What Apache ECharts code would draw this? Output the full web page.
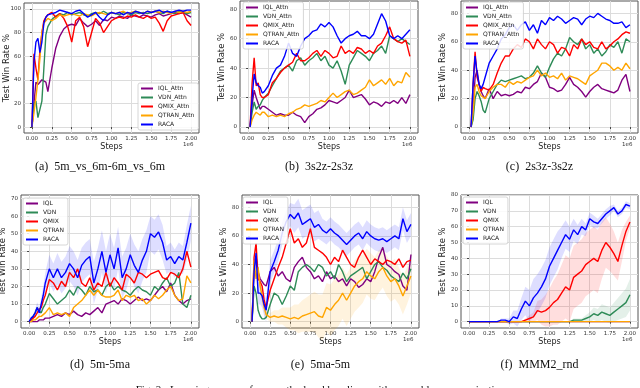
<!DOCTYPE html>
<html>
<head>
<meta charset="utf-8">
<script src="https://cdn.jsdelivr.net/npm/echarts@6/dist/echarts.min.js"></script>
<style>
  html, body { margin: 0; padding: 0; background: #fff; }
  #chart { width: 640px; height: 388px; }
</style>
</head>
<body>
<div id="chart"></div>
<script>
// steps (x 1e6)
const STEPS = [0, 0.025, 0.05, 0.075, 0.1, 0.125, 0.15, 0.175, 0.2, 0.25, 0.3, 0.35, 0.4, 0.45, 0.5, 0.55, 0.6, 0.65, 0.7, 0.75, 0.8, 0.85, 0.9, 0.95, 1.0, 1.05, 1.1, 1.15, 1.2, 1.25, 1.3, 1.35, 1.4, 1.45, 1.5, 1.55, 1.6, 1.65, 1.7, 1.75, 1.8, 1.85, 1.9, 1.95, 2.0];
const X_TICKS = [0, 0.25, 0.5, 0.75, 1.0, 1.25, 1.5, 1.75, 2.0];
const Y_TICKS_20_100 = [0, 20, 40, 60, 80, 100];
const Y_TICKS_20_80 = [0, 20, 40, 60, 80];
const Y_TICKS_10_70 = [0, 10, 20, 30, 40, 50, 60, 70];
const Y_TICKS_10_80 = [0, 10, 20, 30, 40, 50, 60, 70, 80];

const ATTN_NAMES = ['IQL_Attn', 'VDN_Attn', 'QMIX_Attn', 'QTRAN_Attn', 'RACA'];
const BASE_NAMES = ['IQL', 'VDN', 'QMIX', 'QTRAN', 'RACA'];
const CAPTIONS = ['(a)  5m_vs_6m-6m_vs_6m', '(b)  3s2z-2s3z', '(c)  2s3z-3s2z', '(d)  5m-5ma', '(e)  5ma-5m', '(f)  MMM2_rnd'];

// (a) 5m_vs_6m-6m_vs_6m
const A_IQL = [0, 20, 38, 36, 38, 40, 40, 38, 30, 50, 67, 77, 83, 86, 87, 86, 92, 88, 85, 87, 90, 86, 91, 90, 93, 92, 94, 93, 92, 95, 94, 93, 95, 94, 93, 95, 96, 94, 95, 96, 97, 96, 97, 95, 93];
const A_VDN = [0, 20, 22, 8, 15, 22, 50, 78, 85, 91, 94, 96, 95, 97, 95, 96, 97, 95, 94, 96, 97, 96, 98, 96, 97, 96, 95, 97, 96, 95, 97, 96, 97, 96, 97, 98, 97, 96, 98, 97, 96, 98, 97, 96, 97];
const A_QMIX = [0, 62, 50, 40, 65, 80, 90, 93, 95, 97, 93, 96, 92, 85, 72, 90, 93, 85, 68, 80, 92, 88, 80, 85, 90, 92, 93, 92, 94, 93, 95, 93, 92, 94, 92, 93, 88, 81, 90, 94, 95, 96, 97, 90, 86];
const A_QTRAN = [0, 12, 25, 40, 58, 80, 88, 90, 92, 90, 92, 95, 94, 95, 96, 95, 94, 96, 95, 94, 96, 97, 96, 95, 97, 96, 97, 98, 96, 97, 98, 97, 96, 98, 97, 98, 97, 98, 97, 96, 98, 97, 98, 97, 98];
const A_RACA = [0, 55, 72, 75, 63, 72, 88, 93, 95, 96, 97, 99, 98, 97, 96, 98, 99, 96, 93, 95, 97, 93, 90, 95, 97, 96, 97, 95, 97, 96, 98, 97, 96, 98, 97, 98, 99, 97, 98, 97, 98, 99, 98, 99, 99];

// (b) 3s2z-2s3z
const B_IQL = [null, 0, 15, 25, 20, 16, 12, 14, 14, 12, 10, 8, 9, 8, 8, 10, 8, 7, 3, 7, 9, 12, 13, 15, 18, 17, 16, 18, 20, 25, 20, 21, 22, 19, 15, 17, 16, 14, 17, 16, 18, 16, 20, 16, 22];
const B_VDN = [null, 0, 10, 17, 12, 14, 15, 18, 20, 23, 28, 33, 38, 40, 42, 38, 45, 47, 42, 45, 47, 50, 45, 48, 42, 40, 45, 38, 29, 42, 47, 52, 50, 48, 45, 50, 52, 55, 50, 62, 60, 58, 60, 58, 56];
const B_QMIX = [null, 0, 30, 47, 28, 30, 22, 20, 20, 22, 30, 33, 37, 40, 42, 44, 50, 45, 45, 47, 50, 52, 48, 52, 50, 47, 48, 55, 50, 52, 50, 54, 53, 50, 52, 50, 55, 57, 62, 68, 60, 58, 57, 59, 48];
const B_QTRAN = [null, 0, 5, 8, 10, 9, 8, 10, 10, 7, 8, 7, 8, 7, 9, 10, 12, 13, 15, 14, 15, 16, 18, 17, 20, 23, 20, 22, 24, 25, 22, 23, 25, 27, 32, 28, 30, 32, 29, 33, 28, 31, 30, 37, 34];
const B_RACA = [null, 0, 20, 36, 30, 28, 27, 23, 24, 28, 35, 40, 42, 48, 57, 50, 48, 55, 60, 62, 65, 66, 70, 68, 71, 68, 62, 57, 60, 62, 63, 65, 62, 62, 60, 63, 70, 77, 72, 62, 60, 62, 60, 63, 66];

// (c) 2s3z-3s2z
const C_IQL = [null, 0, 10, 35, 40, 30, 25, 22, 20, 27, 20, 25, 22, 23, 22, 23, 25, 24, 28, 27, 30, 32, 38, 35, 28, 27, 25, 26, 30, 35, 30, 28, 25, 21, 25, 28, 30, 27, 26, 25, 24, 26, 33, 37, 25];
const C_VDN = [null, 0, 5, 20, 25, 22, 18, 12, 10, 20, 25, 30, 33, 32, 33, 34, 35, 36, 34, 35, 38, 43, 38, 35, 42, 48, 52, 50, 55, 63, 60, 58, 62, 55, 58, 52, 55, 50, 53, 58, 56, 60, 52, 62, 60];
const C_QMIX = [null, 0, 30, 53, 35, 30, 25, 28, 27, 26, 30, 38, 45, 50, 50, 55, 58, 56, 62, 60, 55, 62, 58, 55, 60, 58, 52, 56, 55, 50, 58, 55, 62, 58, 60, 56, 55, 60, 55, 57, 60, 62, 65, 67, 66];
const C_QTRAN = [null, 0, 10, 28, 30, 25, 22, 21, 20, 25, 28, 30, 30, 28, 32, 30, 32, 31, 33, 35, 36, 40, 36, 38, 35, 36, 34, 38, 33, 36, 35, 34, 32, 30, 36, 38, 40, 45, 45, 43, 40, 42, 40, 45, 41];
const C_RACA = [null, 0, 30, 50, 38, 30, 27, 30, 35, 45, 50, 55, 62, 65, 70, 72, 68, 72, 74, 68, 72, 66, 75, 72, 77, 75, 78, 76, 73, 75, 77, 76, 72, 76, 78, 77, 80, 78, 76, 75, 73, 73, 74, 70, 72];

// (d) 5m-5ma
const D_IQL = [0, 0, 0, 0, 0, 1, 1, 1, 2, 2, 3, 4, 3, 5, 4, 6, 4, 3, 5, 4, 6, 8, 5, 10, 11, 12, 10, 13, 12, 10, 12, 14, 12, 13, 12, 15, 18, 20, 17, 22, 15, 12, 10, 12, 13];
const D_VDN = [0, 1, 3, 5, 8, 6, 5, 8, 10, 16, 13, 10, 12, 14, 18, 15, 20, 18, 15, 20, 17, 18, 15, 20, 22, 18, 20, 18, 17, 15, 18, 20, 18, 17, 15, 20, 18, 22, 25, 20, 22, 28, 10, 8, 15];
const D_QMIX = [0, 1, 2, 3, 5, 7, 8, 12, 15, 24, 22, 18, 23, 20, 28, 25, 30, 22, 20, 25, 18, 22, 20, 28, 20, 25, 22, 18, 27, 25, 22, 28, 27, 25, 27, 28, 29, 25, 24, 28, 27, 25, 30, 40, 31];
const D_QTRAN = [0, 0, 1, 1, 2, 3, 3, 4, 5, 8, 4, 5, 4, 5, 3, 8, 10, 12, 15, 18, 15, 18, 15, 14, 14, 15, 18, 12, 15, 14, 15, 12, 13, 10, 12, 15, 13, 15, 18, 20, 15, 12, 13, 26, 22];
const D_RACA = [0, 2, 3, 5, 8, 5, 10, 15, 22, 30, 25, 30, 25, 28, 33, 30, 25, 32, 35, 37, 22, 30, 40, 28, 38, 30, 42, 25, 30, 38, 32, 28, 35, 40, 50, 48, 51, 45, 35, 37, 33, 37, 35, 45, 56];
const D_RACA_SD = [0, 1, 1, 2, 3, 3, 4, 5, 6, 8, 8, 9, 9, 9, 10, 10, 10, 10, 10, 10, 12, 12, 12, 12, 12, 12, 12, 12, 12, 12, 12, 12, 12, 12, 10, 10, 10, 10, 8, 8, 8, 8, 8, 10, 10];

// (e) 5ma-5m
const E_IQL = [null, 0, 38, 45, 35, 30, 28, 26, 25, 35, 38, 32, 35, 30, 28, 38, 42, 45, 38, 35, 30, 32, 28, 35, 30, 32, 28, 30, 25, 30, 28, 24, 26, 30, 28, 35, 45, 52, 40, 38, 35, 33, 25, 22, 47];
const E_VDN = [null, 0, 25, 20, 8, 4, 2, 2, 3, 12, 20, 18, 12, 18, 25, 22, 35, 38, 40, 38, 35, 40, 38, 32, 35, 30, 40, 35, 28, 32, 34, 36, 38, 30, 35, 40, 42, 38, 36, 32, 30, 28, 34, 30, 37];
const E_QMIX = [null, 0, 45, 55, 30, 28, 25, 15, 10, 22, 30, 38, 45, 55, 65, 55, 58, 52, 55, 65, 52, 50, 48, 45, 40, 45, 42, 50, 45, 40, 38, 45, 50, 45, 40, 44, 42, 40, 43, 42, 40, 44, 38, 42, 43];
const E_QTRAN = [null, 0, 43, 30, 38, 25, 18, 10, 5, 3, 4, 3, 4, 3, 2, 3, 2, 4, 5, 6, 7, 4, 3, 10, 8, 12, 15, 20, 15, 20, 25, 28, 30, 35, 32, 30, 35, 38, 32, 28, 30, 25, 18, 25, 32];
const E_RACA = [null, 0, 35, 48, 20, 20, 18, 12, 8, 35, 42, 50, 62, 70, 75, 72, 76, 68, 70, 72, 66, 68, 64, 62, 65, 62, 60, 57, 54, 57, 60, 62, 58, 63, 60, 58, 57, 58, 56, 58, 60, 58, 72, 63, 68];
const E_QTRAN_SD = [0, 0, 5, 5, 5, 5, 5, 5, 3, 3, 4, 5, 6, 7, 8, 9, 10, 11, 12, 13, 14, 15, 16, 17, 18, 18, 18, 18, 18, 18, 18, 18, 17, 16, 16, 15, 15, 14, 14, 14, 14, 13, 13, 13, 12];
const E_RACA_SD = [0, 0, 8, 8, 8, 8, 8, 8, 8, 8, 8, 8, 8, 8, 8, 10, 10, 10, 10, 10, 10, 10, 8, 8, 8, 8, 8, 8, 8, 8, 8, 8, 8, 8, 8, 8, 8, 8, 8, 8, 8, 8, 8, 8, 8];

// (f) MMM2_rnd
const F_IQL = [0, 0, 0, 0, 0, 0, 0, 0, 0, 0, 0, 0, 0, 0, 0, 0, 0, 0, 0, 0, 0, 0, 0, 0, 0, 0, 0, 0, 0, 0, 0, 0, 0, 0, 0, 0, 0, 0, 0, 0, 0, 0, 0, 0, 0];
const F_VDN = [0, 0, 0, 0, 0, 0, 0, 0, 0, 0, 0, 0, 0, 0, 0, 0, 0, 0, 0, 0, 0, 0, 0, 0, 0, 0, 0, 0, 0, 0, 1, 1, 1, 2, 3, 5, 4, 6, 5, 4, 6, 8, 10, 12, 17];
const F_QMIX = [0, 0, 0, 0, 0, 0, 0, 0, 0, 0, 0, 0, 0, 0, 0, 0, 0, 0, 1, 2, 3, 7, 6, 7, 9, 12, 14, 18, 22, 20, 28, 30, 32, 36, 38, 40, 38, 45, 50, 47, 43, 38, 48, 57, 63];
const F_QTRAN = [0, 0, 0, 0, 0, 0, 0, 0, 0, 0, 0, 0, 0, 0, 0, 0, 0, 0, 0, 0, 0, 0, 0, 0, 0, 0, 0, 0, 0, 0, 0, 0, 0, 0, 0, 0, 0, 0, 0, 0, 0, 0, 0, 0, 0];
const F_RACA = [0, 0, 0, 0, 0, 0, 0, 0, 0, 0, 0, 0, 1, 1, 0, 3, 2, 8, 13, 10, 15, 18, 22, 27, 35, 40, 45, 50, 55, 52, 58, 55, 60, 58, 65, 63, 62, 65, 68, 70, 72, 68, 70, 74, 73];
const F_VDN_SD = [0, 0, 0, 0, 0, 0, 0, 0, 0, 0, 0, 0, 0, 0, 0, 0, 0, 0, 0, 0, 0, 0, 0, 0, 0, 0, 0, 0, 0, 0, 1, 1, 1, 2, 3, 4, 4, 5, 5, 5, 6, 7, 8, 9, 10];
const F_QMIX_SD = [0, 0, 0, 0, 0, 0, 0, 0, 0, 0, 0, 0, 0, 0, 0, 0, 0, 0, 1, 2, 3, 6, 8, 10, 12, 14, 16, 18, 20, 20, 20, 20, 20, 20, 20, 20, 20, 18, 16, 15, 14, 12, 10, 6, 4];
const F_RACA_SD = [0, 0, 0, 0, 0, 0, 0, 0, 0, 0, 0, 0, 1, 1, 2, 4, 5, 7, 9, 10, 12, 12, 12, 12, 12, 12, 12, 10, 9, 8, 7, 6, 5, 4, 4, 4, 3, 3, 3, 3, 2, 2, 2, 2, 2];

const COLORS = ['#800080', '#2e8b57', '#ff0000', '#ffa500', '#0000ff'];
const TICK_FONT = 'DejaVu Sans';

const panels = [
  { lines: [A_IQL, A_VDN, A_QMIX, A_QTRAN, A_RACA], names: ATTN_NAMES, yTicks: Y_TICKS_20_100, bands: [],
    box: { left: 24, top: 3, width: 175, height: 130 }, ymin: -5, ymax: 105, legend: [138, 83], yGap: 13, yMove: false },
  { lines: [B_IQL, B_VDN, B_QMIX, B_QTRAN, B_RACA], names: ATTN_NAMES, yTicks: Y_TICKS_20_80, bands: [],
    box: { left: 240, top: 1, width: 178, height: 132 }, ymin: -4.1, ymax: 85.6, legend: [243, 2], yGap: 11, yMove: true },
  { lines: [C_IQL, C_VDN, C_QMIX, C_QTRAN, C_RACA], names: ATTN_NAMES, yTicks: Y_TICKS_20_80, bands: [],
    box: { left: 461, top: 1, width: 177, height: 132 }, ymin: -4.2, ymax: 88.7, legend: [463, 2], yGap: 11, yMove: true },
  { lines: [D_IQL, D_VDN, D_QMIX, D_QTRAN, D_RACA], names: BASE_NAMES, yTicks: Y_TICKS_10_70, bands: [[4, D_RACA_SD]],
    box: { left: 21, top: 195, width: 178, height: 133 }, ymin: -3.6, ymax: 72, legend: [23, 198], yGap: 11, yMove: true },
  { lines: [E_IQL, E_VDN, E_QMIX, E_QTRAN, E_RACA], names: BASE_NAMES, yTicks: Y_TICKS_20_80, bands: [[3, E_QTRAN_SD], [4, E_RACA_SD]],
    box: { left: 242, top: 195, width: 177, height: 133 }, ymin: -4.4, ymax: 88.6, legend: [243, 197], yGap: 11, yMove: true },
  { lines: [F_IQL, F_VDN, F_QMIX, F_QTRAN, F_RACA], names: BASE_NAMES, yTicks: Y_TICKS_10_80, bands: [[1, F_VDN_SD], [2, F_QMIX_SD], [4, F_RACA_SD]],
    box: { left: 461, top: 195, width: 177, height: 133 }, ymin: -4, ymax: 80, legend: [463, 197], yGap: 11, yMove: true }
];

function pairs(values) {
  return STEPS.map((x, i) => [x, values[i]]);
}

// shaded spread as one polygon, placed through the axis scales
function bandSeries(p, mean, sd, color) {
  return {
    type: 'custom',
    xAxisIndex: p, yAxisIndex: p,
    silent: true, z: 1,
    data: [[0, 0]],
    renderItem: (params, api) => {
      const upper = [], lower = [];
      STEPS.forEach((x, i) => {
        if (mean[i] == null) return;
        upper.push(api.coord([x, mean[i] + sd[i]]));
        lower.unshift(api.coord([x, mean[i] - sd[i]]));
      });
      return {
        type: 'polygon',
        shape: { points: upper.concat(lower) },
        style: { fill: color, opacity: 0.13 }
      };
    }
  };
}

const grid = [], xAxis = [], yAxis = [], series = [], legend = [], graphic = [];

panels.forEach((pn, p) => {
  grid.push(Object.assign({ show: true, borderColor: '#555', borderWidth: 1, backgroundColor: 'transparent', outerBoundsMode: 'none' }, pn.box));
  const bottom = pn.box.top + pn.box.height;
  const right = pn.box.left + pn.box.width;

  xAxis.push({
    type: 'value', gridIndex: p, min: -0.1, max: 2.1,
    axisLine: { show: false },
    axisTick: { show: true, length: 2, customValues: X_TICKS, lineStyle: { color: '#444' } },
    axisLabel: { customValues: X_TICKS, formatter: v => v.toFixed(2), fontSize: 5.5, color: '#333', margin: 3, fontFamily: TICK_FONT },
    splitLine: { show: true, lineStyle: { color: '#dcdcdc', width: 1 } },
    name: 'Steps', nameLocation: 'middle', nameGap: p < 3 ? 9 : 8,
    nameTextStyle: { fontSize: 8, color: '#222', fontFamily: TICK_FONT }
  });
  yAxis.push({
    type: 'value', gridIndex: p, min: pn.ymin, max: pn.ymax,
    axisLine: { show: false },
    axisTick: { show: true, length: 2, customValues: pn.yTicks, lineStyle: { color: '#444' } },
    axisLabel: { customValues: pn.yTicks, fontSize: 5.5, color: '#333', margin: 3, fontFamily: TICK_FONT },
    splitLine: { show: true, lineStyle: { color: '#dcdcdc', width: 1 } },
    name: 'Test Win Rate %', nameLocation: 'middle', nameGap: pn.yGap, nameMoveOverlap: pn.yMove,
    nameTextStyle: { fontSize: 8.5, color: '#222', fontFamily: TICK_FONT }
  });

  pn.bands.forEach(([m, sd]) => series.push(bandSeries(p, pn.lines[m], sd, COLORS[m])));

  pn.lines.forEach((vals, m) => {
    series.push({
      type: 'line', name: pn.names[m], xAxisIndex: p, yAxisIndex: p,
      data: pairs(vals), showSymbol: false, symbol: 'none', z: 3,
      lineStyle: { color: COLORS[m], width: 1.4 },
      itemStyle: { color: COLORS[m] },
      animation: false
    });
  });

  legend.push({
    data: pn.names, orient: 'vertical', left: pn.legend[0], top: pn.legend[1],
    icon: 'rect', itemWidth: 12, itemHeight: 2, itemGap: 2,
    padding: [2, 4, 2, 3], backgroundColor: 'rgba(255,255,255,0.85)',
    borderColor: '#cccccc', borderWidth: 0.8, borderRadius: 2,
    textStyle: { fontSize: 6, color: '#222', fontFamily: TICK_FONT, lineHeight: 7 },
    selectedMode: false
  });

  graphic.push({
    type: 'text', left: right - 16, top: bottom + 9,
    style: { text: '1e6', fontSize: 5.5, fill: '#333', fontFamily: TICK_FONT }
  });
  const cx = pn.box.left + pn.box.width / 2;
  graphic.push({
    type: 'text', x: p === 0 ? 100 : cx - 10, y: p < 3 ? 167 : 365,
    style: { text: CAPTIONS[p], fontSize: 12, fill: '#111', fontFamily: 'Liberation Serif', align: 'center', verticalAlign: 'middle' }
  });
});

graphic.push({
  type: 'text', x: 322, y: 385,
  style: { text: 'Fig. 3:  Learning curves of our method and baselines with ensemble communication.', fontSize: 11, fill: '#111', fontFamily: 'Liberation Serif', align: 'center', verticalAlign: 'top' }
});

const chart = echarts.init(document.getElementById('chart'), null, { renderer: 'canvas' });
chart.setOption({
  animation: false,
  backgroundColor: '#fff',
  grid, xAxis, yAxis, series, legend, graphic
});
</script>
</body>
</html>
